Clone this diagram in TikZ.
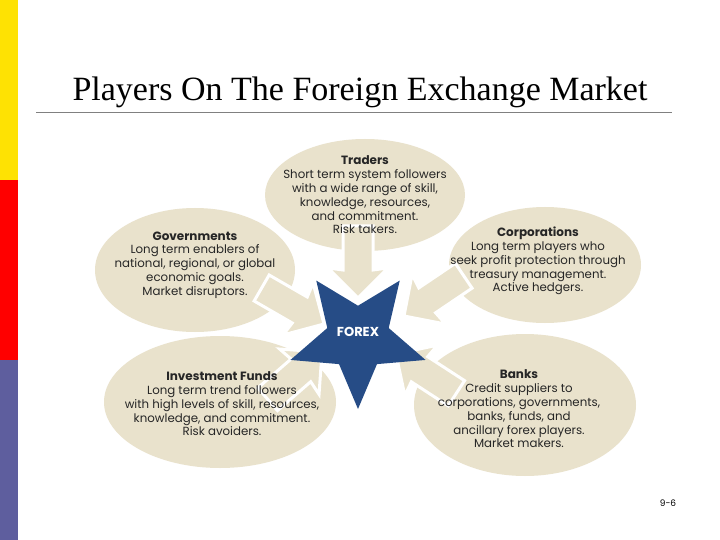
\documentclass[tikz,border=0pt]{standalone}
\usepackage{fontspec}
\setmainfont{Liberation Serif}
\newfontfamily\bodyf{Poppins}
\usetikzlibrary{shapes.geometric}
\definecolor{beige}{HTML}{E9E2CC}
\definecolor{navy}{HTML}{264C86}
\definecolor{barblue}{HTML}{5E5E9E}
\begin{document}
\begin{tikzpicture}[x=1pt,y=-1pt,
  blob/.style={ellipse,fill=beige,inner sep=0pt},
  txt/.style={font=\bodyf\fontsize{11.8}{13.8}\selectfont,align=center,text=black!85},
  arr/.style={fill=beige,draw=white,line width=3pt,line join=miter}]
\newcommand\blockarrow[2]{\begin{scope}[shift={(#1)},rotate=#2]
 \draw[arr] (0,0) -- (-30,-30) -- (-28,-15) -- (-72,-15) -- (-72,15) -- (-28,15) -- (-30,30) -- cycle;
 \end{scope}}
\useasboundingbox (0,0) rectangle (720,540);
\fill[white] (0,0) rectangle (720,540);
\fill[yellow!85!orange] (0,0) rectangle (18,180);
\fill[red] (0,180) rectangle (18,360);
\fill[barblue] (0,360) rectangle (18,540);
\node (title) at (360,92) {\fontsize{34}{36}\selectfont Players On The Foreign Exchange Market};
\coordinate (l1) at (36,113); \coordinate (l2) at (672,113);
\draw[gray,line width=1pt] (l1) -- (l2);
\node[blob,minimum width=200pt,minimum height=112pt] (tr) at (365,195) {};
\node[blob,minimum width=200pt,minimum height=124pt] (gov) at (195,270) {};
\node[blob,minimum width=192pt,minimum height=116pt] (corp) at (545,265) {};
\node[blob,minimum width=232pt,minimum height=132pt] (inv) at (220,402) {};
\node[blob,minimum width=222pt,minimum height=142pt] (bank) at (525,405) {};
\coordinate (p1) at (358,298); \coordinate (p2) at (324,324);
\coordinate (p3) at (404,316); \coordinate (p4) at (322,352);
\coordinate (p5) at (396,354);
\blockarrow{p1}{-90}
\blockarrow{p2}{-30}
\blockarrow{p3}{-146}
\blockarrow{p4}{41}
\blockarrow{p5}{147}
\node[star,star points=5,star point ratio=2.2,fill=navy,minimum size=142pt,rotate=180,inner sep=0pt] (star) at (358,338) {};
\node[font=\bodyf\bfseries\fontsize{13}{15}\selectfont,text=white] (fx) at (358,332) {FOREX};
\node[txt] (t1) at (tr) {\textbf{\large Traders}\\Short term system followers\\with a wide range of skill,\\knowledge, resources,\\and commitment.\\Risk takers.};
\node[txt] (t2) at (195,265) {\textbf{\large Governments}\\Long term enablers of\\national, regional, or global\\economic goals.\\Market disruptors.};
\node[txt] (t3) at (538,261) {\textbf{\large Corporations}\\Long term players who\\seek profit protection through\\treasury management.\\Active hedgers.};
\node[txt] (t4) at (222,404) {\textbf{\large Investment Funds}\\Long term trend followers\\with high levels of skill, resources,\\knowledge, and commitment.\\Risk avoiders.};
\node[txt] (t5) at (519,409) {\textbf{\large Banks}\\Credit suppliers to\\corporations, governments,\\banks, funds, and\\ancillary forex players.\\Market makers.};
\node[font=\bodyf\fontsize{9}{10}\selectfont] (pg) at (668,503) {9-6};
\end{tikzpicture}
\end{document}
